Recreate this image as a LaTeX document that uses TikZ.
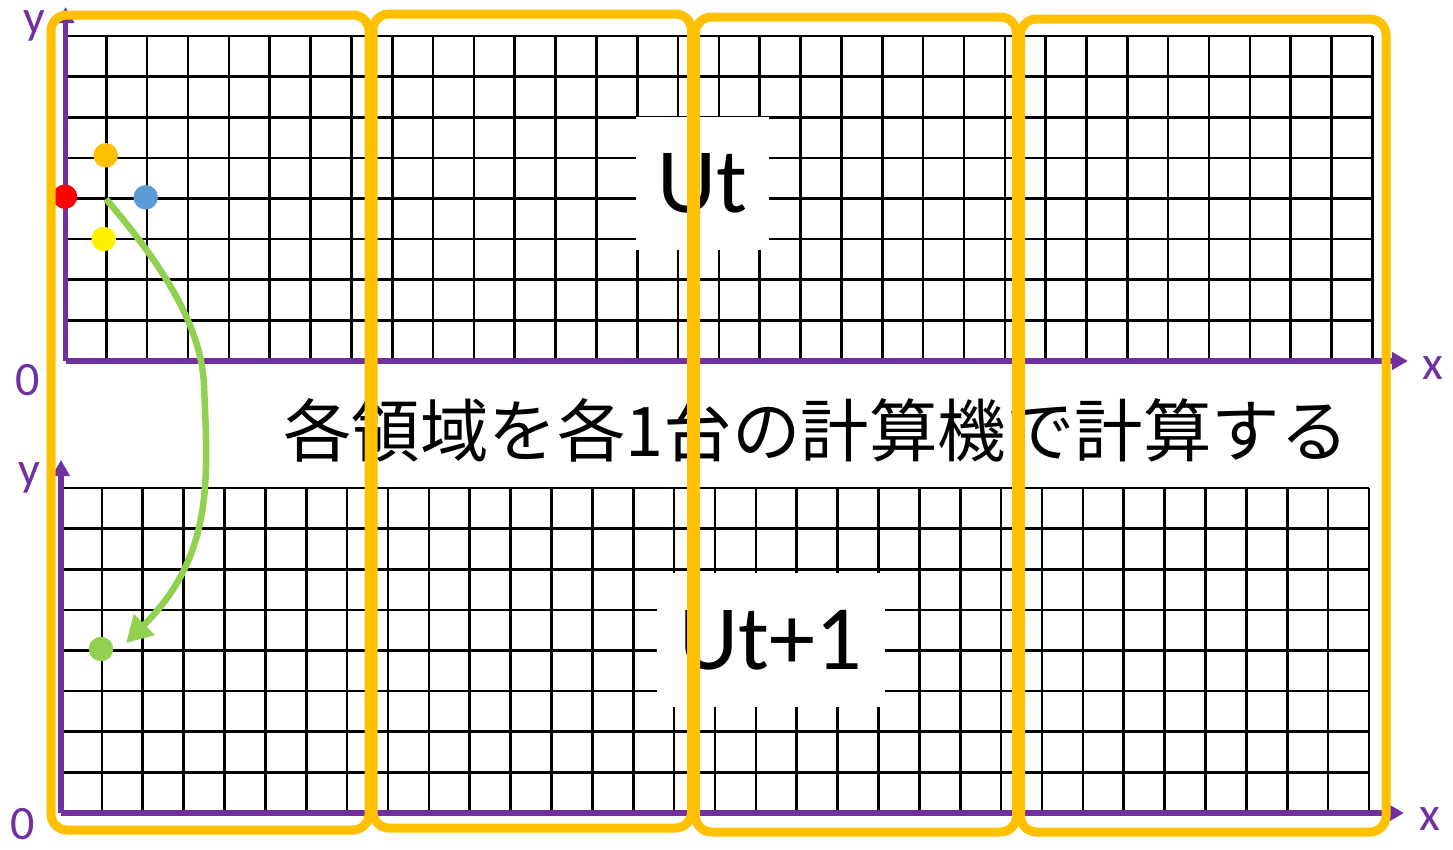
\documentclass[tikz,border=0pt]{standalone}
\usepackage{fontspec}
\setmainfont{Carlito}
\newfontfamily\cjk{Noto Sans CJK JP}
\usetikzlibrary{arrows.meta}
\definecolor{axpurple}{HTML}{7030A0}
\definecolor{frameyellow}{HTML}{FFC000}
\definecolor{leafgreen}{HTML}{92D050}
\definecolor{dotblue}{HTML}{5B9BD5}
\definecolor{dotorange}{HTML}{FFC000}
\tikzset{
  gridline/.style={line width=2.6pt, black},
  axisline/.style={line width=5.5pt, axpurple, -{Triangle[length=16pt,width=17pt]}},
  axlabel/.style={text=axpurple, inner sep=0pt, font=\fontsize{48}{48}\selectfont},
  frame/.style={draw=frameyellow, line width=9pt, rounded corners=16pt},
  dot/.style={circle, inner sep=0pt, minimum size=24.5pt},
  ubox/.style={fill=white, inner sep=0pt, font=\fontsize{92}{92}\selectfont},
  flow/.style={line width=6.5pt, leafgreen, -{Triangle[length=26pt,width=28pt]}}
}
\begin{document}
\begin{tikzpicture}[x=1pt,y=-1pt]
\useasboundingbox (0,0) rectangle (1453,849);
\fill[white] (0,0) rectangle (1453,849);
% top grid
\foreach \i in {0,...,32} {
  \draw[gridline] ({65.5+\i*40.84},36) -- ({65.5+\i*40.84},361);
}
\foreach \j in {0,...,8} {
  \draw[gridline] (65.5,{36+\j*40.625}) -- (1372.5,{36+\j*40.625});
}
% bottom grid
\foreach \i in {0,...,32} {
  \draw[gridline] ({61+\i*40.875},488) -- ({61+\i*40.875},813);
}
\foreach \j in {0,...,8} {
  \draw[gridline] (61,{488+\j*40.625}) -- (1369,{488+\j*40.625});
}
% axes
\coordinate (o1) at (65.5,361);
\coordinate (y1) at (65.5,7);
\coordinate (x1) at (1408,361);
\coordinate (o2) at (61,813);
\coordinate (y2) at (61,460);
\coordinate (x2) at (1404,813);
\draw[axisline] (o1) -- (y1);
\draw[axisline] (o1) -- (x1);
\draw[axisline] (o2) -- (y2);
\draw[axisline] (o2) -- (x2);
\node[axlabel] (ly1) at (34,26) {y};
\node[axlabel] (l01) at (28,380) {0};
\node[axlabel] (lx1) at (1433,368) {x};
\node[axlabel] (ly2) at (29,478) {y};
\node[axlabel] (l02) at (23,824) {0};
\node[axlabel] (lx2) at (1430,819) {x};
% dots
\node[dot, fill=dotorange] (dorange) at (105.7,155.3) {};
\node[dot, fill=red] (dred) at (65,196.7) {};
\node[dot, fill=dotblue] (dblue) at (145.7,197.3) {};
\node[dot, fill=yellow] (dyellow) at (103.7,239) {};
\node[dot, fill=leafgreen] (dgreen) at (101,649) {};
% flow arrow
\coordinate (fstart) at (106,199);
\coordinate (fmid) at (204,385);
\coordinate (fend) at (126,643);
\draw[flow] (fstart) .. controls (145,245) and (201,315) .. (fmid)
  .. controls (208,480) and (214,555) .. (fend);
% labels
\node[ubox, minimum width=133pt, minimum height=133pt] (ut) at (702.5,183.5) {Ut};
\node[ubox, minimum width=228pt, minimum height=134pt] (ut1) at (771,640) {Ut+1};
\node[inner sep=0pt, font=\cjk\fontsize{68.5}{68.5}\selectfont] (caption) at (816,430) {各領域を各1台の計算機で計算する};
% frames
\draw[frame] (51,15) rectangle (369,830);
\draw[frame] (373,14) rectangle (691.5,828);
\draw[frame] (695.5,17) rectangle (1016.5,832);
\draw[frame] (1020.5,19) rectangle (1386,832);
\end{tikzpicture}
\end{document}
